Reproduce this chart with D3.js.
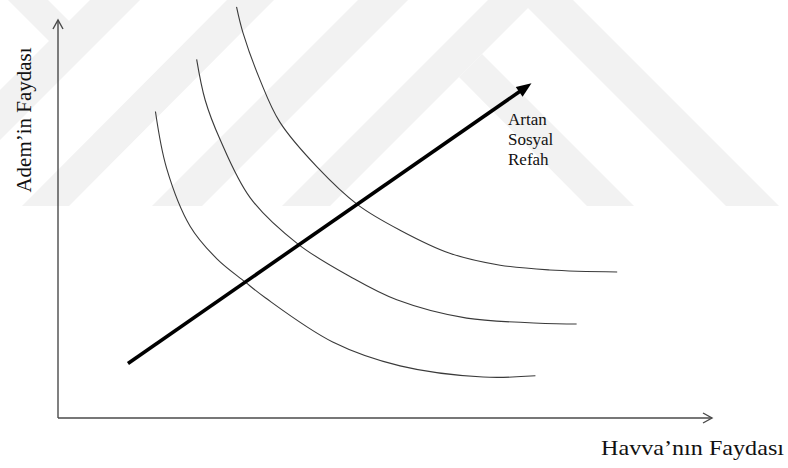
<!DOCTYPE html>
<html>
<head>
<meta charset="utf-8">
<script src="https://cdn.jsdelivr.net/npm/d3@7"></script>
<style>
  html,body{margin:0;padding:0;background:#fff;}
  svg{display:block;}
  text{font-family:"Liberation Serif","Times New Roman",serif;fill:#111;}
</style>
</head>
<body>
<svg id="box" width="788" height="468"></svg>
<script>
// indifference curves, in axis units (0..10)
let curveLow=[[1.49,7.70],[1.66,6.28],[2.02,4.82],[2.43,4.00],[2.86,3.42],[3.17,3.02],[4.20,1.91],[5.23,1.31],[6.50,1.03],[7.30,1.06]];
let curveMid=[[2.12,9.01],[2.25,7.99],[2.48,6.99],[2.94,5.53],[3.67,4.37],[4.47,3.55],[5.18,2.97],[6.25,2.51],[7.93,2.36]];
let curveHigh=[[2.73,10.33],[2.83,9.67],[3.09,8.49],[3.39,7.44],[3.96,6.31],[4.59,5.35],[5.23,4.72],[5.99,4.14],[6.76,3.84],[7.52,3.72],[8.55,3.67]];
let welfareArrow=[[1.07,1.37],[7.24,8.41]];
let arrowLabel=["Artan","Sosyal","Refah"];
let xLabel="Havva\u2019nın Faydası";
let yLabel="Adem\u2019in Faydası";

let box=d3.select("#box");
let xScale=d3.scaleLinear().domain([0,10]).range([58,712]);
let yScale=d3.scaleLinear().domain([0,10]).range([418,20]);

// faint background watermark stripes (decoration of the scanned page)
let wm=box.append("g").style("fill","#f2f2f2");
[
  "M8,0L48,0L93,45L53,45Z",
  "M90,0L140,0L0,140L0,90Z",
  "M227,0L274,0L69,206L22,206Z",
  "M358,0L408,0L202,206L152,206Z",
  "M488,0L536,0L330,206L282,206Z",
  "M459,77L482,54L634,206L587,206Z",
  "M520,0L573,0L779,206L726,206Z"
].forEach(d=>wm.append("path").attr("d",d));

// axes: plain lines with open arrow heads
let axisCol="#4a4a4a";
box.append("line").attr("x1",xScale(0)).attr("y1",yScale(0)).attr("x2",xScale(10)).attr("y2",yScale(0))
  .style("stroke",axisCol).style("stroke-width",1.4);
box.append("line").attr("x1",xScale(0)).attr("y1",yScale(0)).attr("x2",xScale(0)).attr("y2",yScale(10))
  .style("stroke",axisCol).style("stroke-width",1.4);
box.append("path").attr("d","M"+(xScale(10)-9)+","+(yScale(0)-5)+"L"+xScale(10)+","+yScale(0)+"L"+(xScale(10)-9)+","+(yScale(0)+5))
  .style("fill","none").style("stroke",axisCol).style("stroke-width",1.4);
box.append("path").attr("d","M"+(xScale(0)-5)+","+(yScale(10)+9)+"L"+xScale(0)+","+yScale(10)+"L"+(xScale(0)+5)+","+(yScale(10)+9))
  .style("fill","none").style("stroke",axisCol).style("stroke-width",1.4);

// curves
let line=d3.line().x(d=>xScale(d[0])).y(d=>yScale(d[1])).curve(d3.curveCatmullRom.alpha(0.5));
[curveLow,curveMid,curveHigh].forEach(c=>{
  box.append("path").attr("d",line(c)).style("fill","none").style("stroke","#3a3a3a").style("stroke-width",1.1);
});

// thick arrow
let p0=[xScale(welfareArrow[0][0]),yScale(welfareArrow[0][1])];
let p1=[xScale(welfareArrow[1][0]),yScale(welfareArrow[1][1])];
let len=Math.hypot(p1[0]-p0[0],p1[1]-p0[1]);
let ux=(p1[0]-p0[0])/len, uy=(p1[1]-p0[1])/len;
let headL=15, headW=6;
box.append("line").attr("x1",p0[0]).attr("y1",p0[1]).attr("x2",p1[0]-ux*10).attr("y2",p1[1]-uy*10)
  .style("stroke","#000").style("stroke-width",3.6);
let bx=p1[0]-ux*headL, by=p1[1]-uy*headL;
box.append("path").attr("d","M"+p1[0]+","+p1[1]+"L"+(bx-uy*headW)+","+(by+ux*headW)+"L"+(bx+uy*headW)+","+(by-ux*headW)+"Z")
  .style("fill","#000");

// labels
box.selectAll("text.lab").data(arrowLabel).enter().append("text").attr("class","lab")
  .attr("x",508).attr("y",(d,i)=>125+i*20).style("font-size","17px").text(d=>d);
box.append("text").attr("x",601).attr("y",455).style("font-size","22px")
  .attr("textLength",183).attr("lengthAdjust","spacingAndGlyphs").text(xLabel);
box.append("text").attr("transform","translate(31,120) rotate(-90)").attr("text-anchor","middle")
  .style("font-size","21px").text(yLabel);
</script>
</body>
</html>
